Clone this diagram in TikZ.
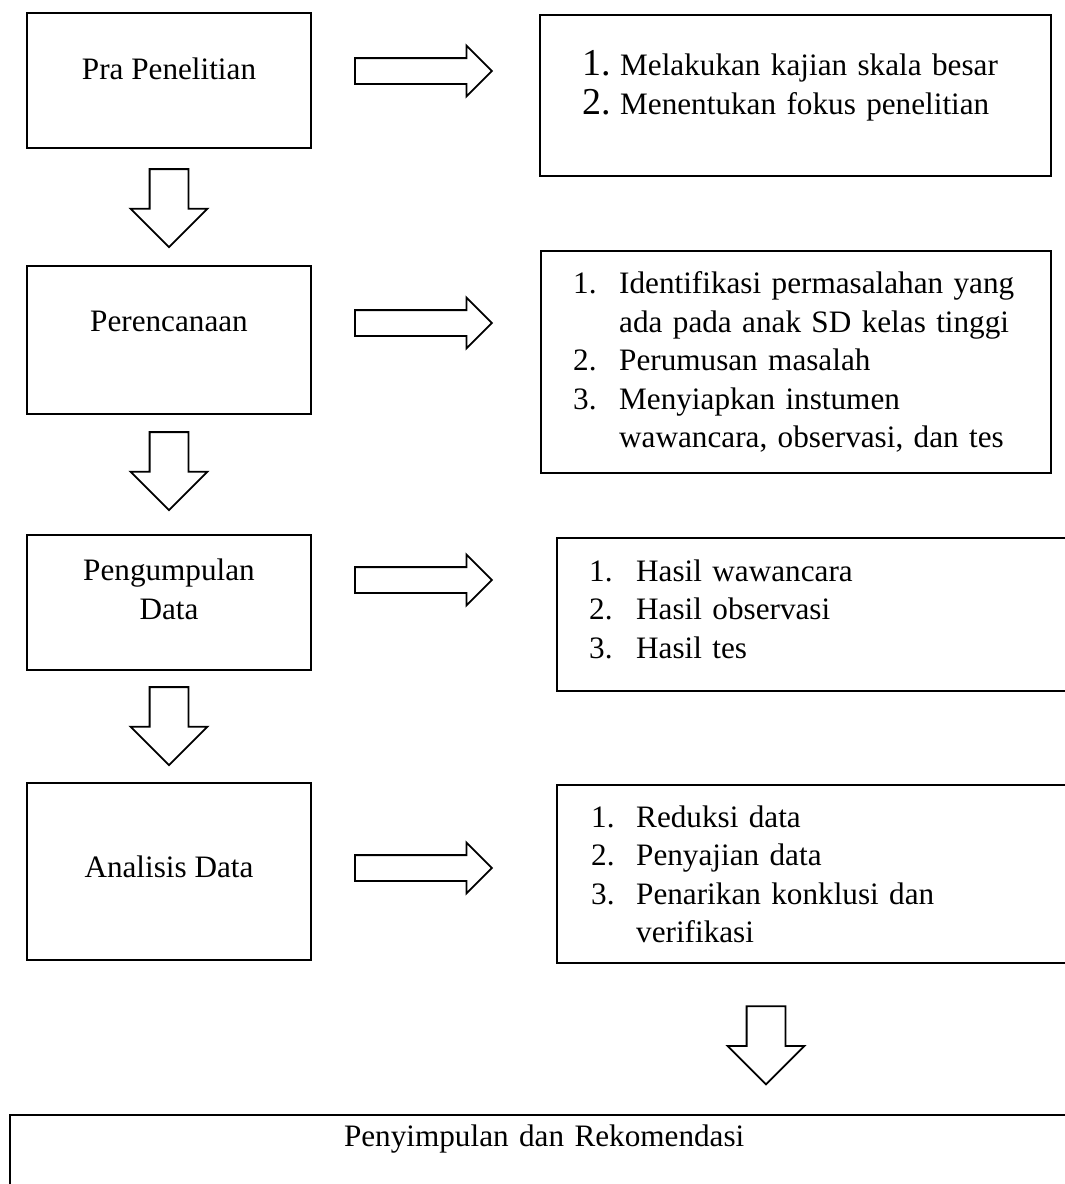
\documentclass[tikz,border=0pt]{standalone}
\usepackage{fontspec}
\setmainfont{Liberation Serif}
\usetikzlibrary{shapes.arrows, positioning, calc}

% one numbered line of a list box
\newcommand{\numline}[3][46pt]{\mbox{\makebox[#1][l]{#2}#3}}

\begin{document}
\begin{tikzpicture}[
    x=1pt, y=-1pt,
    every node/.style={font=\fontsize{31.2}{38.5}\selectfont},
    stage/.style={rectangle, draw, line width=2.4pt, minimum width=284pt, inner sep=0pt, align=center, text height=22pt},
    listbox/.style={rectangle, draw, line width=2.4pt, anchor=north west, align=left, inner ysep=0pt},
    rightarrow/.style={single arrow, draw, line width=1.8pt, inner xsep=0pt, inner ysep=12pt, minimum height=137pt, minimum width=49pt, single arrow head extend=12.5pt},
    downarrow/.style={single arrow, draw, line width=1.8pt, inner xsep=18.5pt, inner ysep=0pt, minimum height=78pt, minimum width=75pt, single arrow head extend=19pt, shape border rotate=270, anchor=tail}
]
\useasboundingbox (0,0) rectangle (1065,1184);

% left column
\node[stage, minimum height=135pt, text depth=25pt] (pra) at (169,80.5) {Pra Penelitian};
\node[stage, minimum height=148pt, text depth=40pt] (rencana) at (169,340) {Perencanaan};
\node[stage, minimum height=135pt, text height=60.5pt, text depth=27.5pt] (kumpul) at (169,602.5) {Pengumpulan\\Data};
\node[stage, minimum height=177pt, text depth=10pt] (analisis) at (169,871.5) {Analisis Data};

% right column
\node[listbox, minimum width=511pt, minimum height=161pt, inner xsep=42pt, text width=427pt, text depth=65pt] (prak) at (539,14) {%
  \numline[38pt]{{\fontsize{38}{38.5}\selectfont 1.}}{Melakukan kajian skala besar}\\
  \numline[38pt]{{\fontsize{38}{38.5}\selectfont 2.}}{Menentukan fokus penelitian}};
\node[listbox, minimum width=510pt, minimum height=222pt, inner xsep=32pt, text width=446pt] (rencanak) at (540,250) {%
  \numline{1.}{Identifikasi permasalahan yang}\\
  \numline{}{ada pada anak SD kelas tinggi}\\
  \numline{2.}{Perumusan masalah}\\
  \numline{3.}{Menyiapkan instumen}\\
  \numline{}{wawancara, observasi, dan tes}};
\node[listbox, minimum width=560pt, minimum height=153pt, inner xsep=32pt, text width=496pt, text depth=89pt] (kumpulk) at (556,537) {%
  \numline[47pt]{1.}{Hasil wawancara}\\
  \numline[47pt]{2.}{Hasil observasi}\\
  \numline[47pt]{3.}{Hasil tes}};
\node[listbox, minimum width=560pt, minimum height=178pt, inner xsep=34pt, text width=492pt] (analisisk) at (556,784) {%
  \numline[45pt]{1.}{Reduksi data}\\
  \numline[45pt]{2.}{Penyajian data}\\
  \numline[45pt]{3.}{Penarikan konklusi dan}\\
  \numline[45pt]{}{verifikasi}};

% bottom
\node[listbox, minimum width=1068pt, inner xsep=0pt, inner ysep=9pt, text width=1068pt, align=center, text height=22pt, text depth=60pt] (simpul) at (9,1114) {Penyimpulan dan Rekomendasi};

% block arrows
\node[downarrow] (d1) at ($(pra.south)+(0,19)$) {};
\node[downarrow] (d2) at ($(rencana.south)+(0,16)$) {};
\node[downarrow] (d3) at ($(kumpul.south)+(0,15)$) {};
\node[downarrow] (d4) at ($(analisisk.south west)+(210,41)$) {};

\node[rightarrow] (r1) at (417,71) {};
\node[rightarrow] (r2) at (417,323) {};
\node[rightarrow] (r3) at (417,580) {};
\node[rightarrow] (r4) at (417,868) {};
\end{tikzpicture}
\end{document}
